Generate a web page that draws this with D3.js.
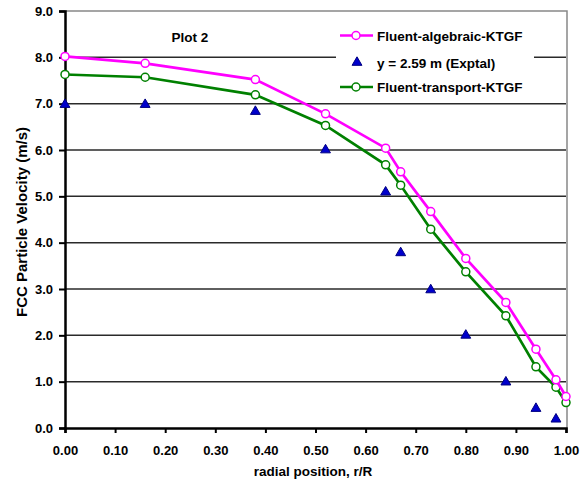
<!DOCTYPE html>
<html>
<head>
<meta charset="utf-8">
<script src="https://cdn.jsdelivr.net/npm/d3@7"></script>
<style>
  body { margin: 0; background: #fff; }
  text { font-family: "Liberation Sans", Arial, sans-serif; font-weight: bold; }
</style>
</head>
<body>
<div id="chart"></div>
<script>
var radial = [0, 0.16, 0.38, 0.52, 0.64, 0.67, 0.73, 0.80, 0.88, 0.94, 0.98, 1.00];
var algebraic = [8.02, 7.87, 7.52, 6.78, 6.04, 5.53, 4.67, 3.66, 2.71, 1.70, 1.04, 0.68];
var transport = [7.63, 7.57, 7.19, 6.53, 5.68, 5.24, 4.29, 3.37, 2.42, 1.32, 0.88, 0.55];
var exptX = [0, 0.16, 0.38, 0.52, 0.64, 0.67, 0.73, 0.80, 0.88, 0.94, 0.98];
var exptY = [6.98, 6.98, 6.83, 6.0, 5.09, 3.78, 2.98, 2.0, 0.99, 0.42, 0.19];
var xTicks = [0, 0.1, 0.2, 0.3, 0.4, 0.5, 0.6, 0.7, 0.8, 0.9, 1.0];
var yTicks = [0, 1, 2, 3, 4, 5, 6, 7, 8, 9];

var width = 584, height = 484;
var plotL = 65, plotR = 566, plotT = 11, plotB = 428;

var svg = d3.select("#chart").append("svg")
    .attr("width", width)
    .attr("height", height);

var x = d3.scaleLinear().domain([0, 1]).range([plotL, plotR]);
var y = d3.scaleLinear().domain([0, 9]).range([plotB, plotT]);

// gridlines
svg.selectAll(".grid")
    .data(yTicks.filter(function (d) { return d > 0 && d < 9; }))
    .enter()
    .append("line")
    .attr("x1", plotL).attr("x2", plotR)
    .attr("y1", function (d) { return y(d); })
    .attr("y2", function (d) { return y(d); })
    .attr("stroke", "#2a2a2a")
    .attr("stroke-width", 1.5);

// top + right border
svg.append("path")
    .attr("d", "M" + plotL + "," + y(9) + "H" + (plotR + 1) + "V" + plotB)
    .attr("fill", "none")
    .attr("stroke", "#888")
    .attr("stroke-width", 1.5);

// legend box (white, no border) covers gridlines
svg.append("rect")
    .attr("x", 336).attr("y", 20)
    .attr("width", 198).attr("height", 80)
    .attr("fill", "#fff");

// axes
var yAxis = svg.append("g")
    .attr("transform", "translate(" + plotL + ",0)")
    .call(d3.axisLeft(y).tickValues(yTicks).tickSize(6).tickPadding(6)
        .tickFormat(d3.format(".1f")));
var xAxis = svg.append("g")
    .attr("transform", "translate(0," + plotB + ")")
    .call(d3.axisBottom(x).tickValues(xTicks).tickSize(5).tickPadding(13)
        .tickFormat(d3.format(".2f")));

[xAxis, yAxis].forEach(function (g) {
    g.select(".domain").attr("stroke", "#000").attr("stroke-width", 2.5);
    g.selectAll(".tick line").attr("stroke", "#000").attr("stroke-width", 2);
    g.selectAll(".tick text")
        .attr("fill", "#000")
        .style("font-size", "13px")
        .style("font-family", "'Liberation Sans', Arial, sans-serif")
        .style("font-weight", "bold");
});

// axis titles
svg.append("text")
    .attr("x", 313).attr("y", 476)
    .attr("text-anchor", "middle")
    .style("font-size", "13.5px")
    .text("radial position, r/R");

svg.append("text")
    .attr("transform", "translate(27," + 222 + ") rotate(-90)")
    .attr("text-anchor", "middle")
    .style("font-size", "15px")
    .text("FCC Particle Velocity (m/s)");

svg.append("text")
    .attr("x", 190).attr("y", 42)
    .attr("text-anchor", "middle")
    .style("font-size", "13.5px")
    .text("Plot 2");

var line = d3.line()
    .x(function (d) { return x(d[0]); })
    .y(function (d) { return y(d[1]); });

function drawSeries(vals, color) {
    var pts = radial.map(function (r, i) { return [r, vals[i]]; });
    svg.append("path")
        .datum(pts)
        .attr("d", line)
        .attr("fill", "none")
        .attr("stroke", color)
        .attr("stroke-width", 2.7);
    svg.selectAll(null)
        .data(pts)
        .enter()
        .append("circle")
        .attr("cx", function (d) { return x(d[0]); })
        .attr("cy", function (d) { return y(d[1]); })
        .attr("r", 4)
        .attr("fill", "#fff")
        .attr("stroke", color)
        .attr("stroke-width", 1.5);
}

drawSeries(transport, "#008000");
drawSeries(algebraic, "#ff00ff");

var tri = d3.symbol().type(d3.symbolTriangle).size(42);
svg.selectAll(".expt")
    .data(exptX.map(function (r, i) { return [r, exptY[i]]; }))
    .enter()
    .append("path")
    .attr("d", tri)
    .attr("transform", function (d) { return "translate(" + x(d[0]) + "," + y(d[1]) + ")"; })
    .attr("fill", "#0000cc")
    .attr("stroke", "#000080")
    .attr("stroke-width", 1);

// legend
var legend = svg.append("g");
var items = [
    { name: "Fluent-algebraic-KTGF", color: "#ff00ff", type: "line", ly: 35.5 },
    { name: "y = 2.59 m (Exptal)", color: "#0000cc", type: "tri", ly: 62.5 },
    { name: "Fluent-transport-KTGF", color: "#008000", type: "line", ly: 87 }
];
items.forEach(function (it) {
    if (it.type === "line") {
        legend.append("line")
            .attr("x1", 340).attr("x2", 373)
            .attr("y1", it.ly).attr("y2", it.ly)
            .attr("stroke", it.color).attr("stroke-width", 2.7);
        legend.append("circle")
            .attr("cx", 356).attr("cy", it.ly).attr("r", 4)
            .attr("fill", "#fff").attr("stroke", it.color).attr("stroke-width", 1.5);
    } else {
        legend.append("path")
            .attr("d", tri)
            .attr("transform", "translate(357," + it.ly + ")")
            .attr("fill", "#0000cc").attr("stroke", "#000080").attr("stroke-width", 1);
    }
    legend.append("text")
        .attr("x", 377).attr("y", it.ly + 5)
        .style("font-size", "13.5px")
        .text(it.name);
});
</script>
</body>
</html>
